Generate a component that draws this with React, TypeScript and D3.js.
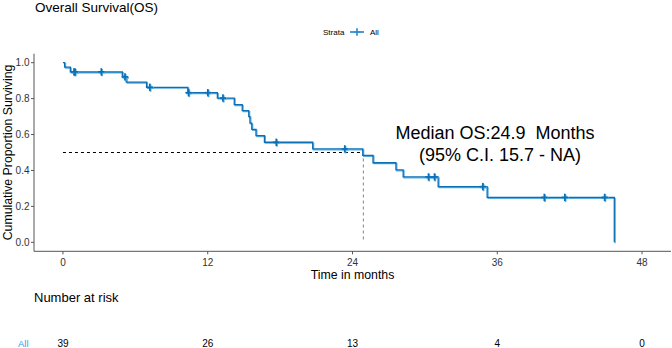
import React from "react";
import * as d3 from "d3";

// Kaplan-Meier step curve (time in months, survival probability)
const stepTimes = [0, 0.14, 0.61, 4.92, 5.25, 6.93, 10.35, 12.8, 14.2, 14.86, 15.4, 15.5, 15.65, 16.0, 16.7, 20.7, 24.85, 25.7, 27.6, 28.2, 31.1, 35.16, 45.7];
const stepSurv = [1.0, 0.975, 0.949, 0.921, 0.892, 0.863, 0.833, 0.803, 0.766, 0.733, 0.70, 0.663, 0.629, 0.594, 0.557, 0.52, 0.484, 0.443, 0.403, 0.364, 0.31, 0.25, 0.0];
// Censored observations (months)
const censorTimes = [0.91, 1.0, 3.18, 5.14, 7.2, 10.41, 12.01, 13.26, 17.68, 23.36, 30.3, 30.8, 34.8, 39.9, 41.6, 44.9];

const xTicks = [0, 12, 24, 36, 48];
const yTicks = [0, 0.2, 0.4, 0.6, 0.8, 1.0];
const riskCounts = [39, 26, 13, 4, 0];
const medianOS = 24.9;

const FONT = "'Liberation Sans', Arial, sans-serif";

function survAt(t: number): number {
  let s = stepSurv[0];
  for (let i = 0; i < stepTimes.length; i++) {
    if (stepTimes[i] <= t) s = stepSurv[i];
  }
  return s;
}

export default function App() {
  const x = d3.scaleLinear().domain([-2.4, 50.4]).range([34, 671]);
  const y = d3.scaleLinear().domain([-0.05, 1.05]).range([251.3, 53.7]);
  const pts: [number, number][] = stepTimes.map((t, i) => [t, stepSurv[i]]);
  const line = d3
    .line<[number, number]>()
    .x((d) => x(d[0]))
    .y((d) => y(d[1]))
    .curve(d3.curveStepAfter);
  const path = line(pts) || "";
  const dark = "#0B6FB5";
  const light = "#58AEE2";

  const plus = (cx: number, cy: number, color: string, key: string) => (
    <g key={key} stroke={color} strokeWidth={1.7}>
      <line x1={cx - 3.2} x2={cx + 3.2} y1={cy} y2={cy} />
      <line x1={cx} x2={cx} y1={cy - 3.7} y2={cy + 3.7} />
    </g>
  );

  return (
    <div style={{ position: "fixed", left: 0, top: 0 }}>
      <svg width={672} height={348} style={{ display: "block", background: "#fff" }} fontFamily={FONT}>
        {/* title */}
        <text x={35} y={12} fontSize={13.5} fill="#000">Overall Survival(OS)</text>

        {/* legend */}
        <text x={323} y={35} fontSize={8} fill="#000">Strata</text>
        <line x1={350} x2={364} y1={32} y2={32} stroke={dark} strokeWidth={1.4} />
        {plus(357, 32, "#2E8FD6", "lg")}
        <text x={370} y={35} fontSize={8} fill="#000">All</text>

        {/* axes */}
        <line x1={34} x2={34} y1={53.7} y2={251.3} stroke="#555" strokeWidth={1} />
        <line x1={34} x2={671} y1={251.3} y2={251.3} stroke="#555" strokeWidth={1} />
        {yTicks.map((v) => (
          <g key={"y" + v}>
            <line x1={31} x2={34} y1={y(v)} y2={y(v)} stroke="#555" />
            <text x={29.5} y={y(v) + 3.5} fontSize={10} textAnchor="end" fill="#333">{v.toFixed(1)}</text>
          </g>
        ))}
        {xTicks.map((v) => (
          <g key={"x" + v}>
            <line x1={x(v)} x2={x(v)} y1={251.3} y2={254.3} stroke="#555" />
            <text x={x(v)} y={265.5} fontSize={10} textAnchor="middle" fill="#333">{v}</text>
          </g>
        ))}
        <text x={352.5} y={279} fontSize={12.3} textAnchor="middle" fill="#000">Time in months</text>
        <text transform={`translate(12,${(53.7 + 251.3) / 2}) rotate(-90)`} fontSize={12.3} textAnchor="middle" fill="#000">
          Cumulative Proportion Surviving
        </text>

        {/* median lines */}
        <line x1={x(0)} x2={x(medianOS)} y1={y(0.5)} y2={y(0.5)} stroke="#000" strokeWidth={1} strokeDasharray="3,3" />
        <line x1={x(medianOS)} x2={x(medianOS)} y1={y(0.5)} y2={y(0)} stroke="#666" strokeWidth={0.8} strokeDasharray="3,3" />

        {/* survival curve */}
        <path d={path} transform="translate(0.9,0.9)" fill="none" stroke={light} strokeWidth={1.3} />
        <path d={path} fill="none" stroke={dark} strokeWidth={1.3} />
        {censorTimes.map((t, i) => (
          <g key={"c" + i}>
            {plus(x(t) + 0.8, y(survAt(t)) + 0.8, light, "cl" + i)}
            {plus(x(t), y(survAt(t)), dark, "cd" + i)}
          </g>
        ))}

        {/* annotation */}
        <text x={495} y={138.5} fontSize={18} textAnchor="middle" fill="#000" style={{ whiteSpace: "pre" }}>
          {"Median OS:24.9  Months"}
        </text>
        <text x={500} y={161} fontSize={18} textAnchor="middle" fill="#000">(95% C.I. 15.7 - NA)</text>

        {/* risk table */}
        <text x={34} y={302} fontSize={13} fill="#000">Number at risk</text>
        <text x={18} y={347} fontSize={9.5} fill="#2E9FDF">All</text>
        {xTicks.map((v, i) => (
          <text key={"r" + v} x={x(v)} y={347} fontSize={10} textAnchor="middle" fill="#000">{riskCounts[i]}</text>
        ))}
      </svg>
    </div>
  );
}
